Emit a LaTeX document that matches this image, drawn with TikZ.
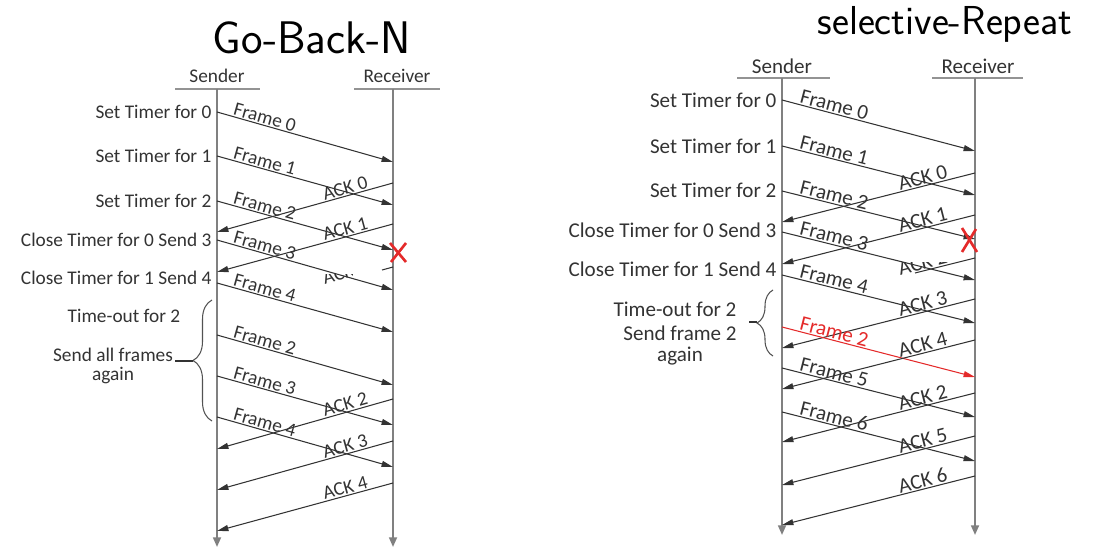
\documentclass[tikz,border=0pt]{standalone}
\usepackage{fontspec}
\setmainfont{Carlito}
\usetikzlibrary{arrows.meta,decorations.pathreplacing}
\definecolor{ink}{HTML}{333333}
\definecolor{lifegray}{HTML}{808080}
\definecolor{lostred}{HTML}{E42A2A}

\begin{document}
\begin{tikzpicture}[
    x=0.02cm, y=-0.02cm,
    font=\fontsize{11}{13}\selectfont,
    hand/.style={font=\sffamily\fontsize{26}{26}\selectfont\addfontfeatures{LetterSpace=4},
        text=black},
    head/.style={text=ink},
    event/.style={text=ink, anchor=east, inner xsep=3pt},
    note/.style={text=ink, align=center, inner sep=0pt},
    bar/.style={draw=lifegray!85, line width=1.1pt},
    life/.style={draw=lifegray, line width=1.1pt, -{Triangle[length=5.5pt,width=4.5pt]}},
    msg/.style={draw=ink, line width=0.6pt, -{Triangle[length=6.5pt,width=3.4pt]}},
    frag/.style={draw=ink, line width=0.6pt},
    lbl/.style={sloped, above, pos=0.26, inner sep=0.6pt, text=ink},
    lost/.style={draw=lostred, line width=1.5pt},
    curly/.style={draw=ink!85, line width=0.6pt, decorate,
        decoration={brace, amplitude=#1}}
]
\useasboundingbox (0,0) rectangle (1114,560);

% Left: Go-Back-N
\node[hand] (gbnTitle) at (312,38) {Go-Back-N};

\node[head] (gbnSender) at (217,76) {Sender};
\node[head] (gbnReceiver) at (397,76) {Receiver};
\draw[bar] (175,89) -- (260,89);
\draw[bar] (354,89) -- (440,89);

\coordinate (gSt) at (217,89);  \coordinate (gSb) at (217,547);
\coordinate (gRt) at (393,89);  \coordinate (gRb) at (393,547);
\draw[life] (gSt) -- (gSb);
\draw[life] (gRt) -- (gRb);

\coordinate (gF0a) at (217,112); \coordinate (gF0b) at (393,162);
\coordinate (gF1a) at (217,156); \coordinate (gF1b) at (393,205);
\coordinate (gF2a) at (217,201); \coordinate (gF2b) at (393,250);
\coordinate (gF3a) at (217,240); \coordinate (gF3b) at (393,290);
\coordinate (gF4a) at (217,283); \coordinate (gF4b) at (393,332);
\coordinate (gA0a) at (393,183); \coordinate (gA0b) at (217,232);
\coordinate (gA1a) at (393,224); \coordinate (gA1b) at (217,272);

\node[event] (gT0) at (gF0a) {Set Timer for 0};
\node[event] (gT1) at (gF1a) {Set Timer for 1};
\node[event] (gT2) at (gF2a) {Set Timer for 2};
\node[event] (gC0) at (gF3a) {Close Timer for 0 Send 3};
\node[event] (gC1) at (217,278) {Close Timer for 1 Send 4};

\draw[msg] (gF0a) -- node[lbl] {Frame 0} (gF0b);
\draw[msg] (gF1a) -- node[lbl] {Frame 1} (gF1b);
\draw[msg] (gF2a) -- node[lbl] {Frame 2} (gF2b);
\draw[msg] (gA0a) -- node[lbl] {ACK 0} (gA0b);
\draw[msg] (gA1a) -- node[lbl] {ACK 1} (gA1b);
\draw[msg] (gF3a) -- node[lbl] {Frame 3} (gF3b);
\draw[msg] (gF4a) -- node[lbl] {Frame 4} (gF4b);

% lost frame 2
\draw[lost] (390,243) -- (406,262);
\draw[lost] (406,243) -- (391,262);

% erased ack
\coordinate (gE0) at (393,267); \coordinate (gE1) at (382,270);
\coordinate (gE2) at (217,317);
\draw[frag] (gE0) -- (gE1);
\begin{scope}
\clip (318,274) rectangle (352,292);
\path (gE0) -- node[lbl] {ACK 2} (gE2);
\end{scope}

% time-out
\draw[curly=0.38cm] (212,421) -- (212,300);
\node[note] (gTimeout) at (124,316) {Time-out for 2};
\node[note, font=\fontsize{11}{10.8}\selectfont] (gResend) at (113,366)
    {Send all frames\\again};
\coordinate (gTip) at (193,361); \coordinate (gTick) at (175,361);
\draw[frag] (gTip) -- (gTick);

\coordinate (gF5a) at (217,335); \coordinate (gF5b) at (393,385);
\coordinate (gF6a) at (217,376); \coordinate (gF6b) at (393,425);
\coordinate (gF7a) at (217,417); \coordinate (gF7b) at (393,467);
\coordinate (gA2a) at (393,399); \coordinate (gA2b) at (217,449);
\coordinate (gA3a) at (393,441); \coordinate (gA3b) at (217,490);
\coordinate (gA4a) at (393,483); \coordinate (gA4b) at (217,531);

\draw[msg] (gF5a) -- node[lbl] {Frame 2} (gF5b);
\draw[msg] (gF6a) -- node[lbl] {Frame 3} (gF6b);
\draw[msg] (gF7a) -- node[lbl] {Frame 4} (gF7b);
\draw[msg] (gA2a) -- node[lbl] {ACK 2} (gA2b);
\draw[msg] (gA3a) -- node[lbl] {ACK 3} (gA3b);
\draw[msg] (gA4a) -- node[lbl] {ACK 4} (gA4b);

% Right: Selective Repeat
\begin{scope}[font=\fontsize{12}{14}\selectfont]
\node[hand, font=\sffamily\fontsize{23}{23}\selectfont\addfontfeatures{LetterSpace=10}]
    (srTitle) at (945,24) {selective-Repeat};

\node[head] (srSender) at (782,66) {Sender};
\node[head] (srReceiver) at (978,66) {Receiver};
\draw[bar] (737,78) -- (830,78);
\draw[bar] (932,78) -- (1023,78);

\coordinate (sSt) at (782,78);  \coordinate (sSb) at (782,535);
\coordinate (sRt) at (975,78);  \coordinate (sRb) at (975,535);
\draw[life] (sSt) -- (sSb);
\draw[life] (sRt) -- (sRb);

\coordinate (sF0a) at (782,100); \coordinate (sF0b) at (975,151);
\coordinate (sF1a) at (782,146); \coordinate (sF1b) at (975,195);
\coordinate (sF2a) at (782,191); \coordinate (sF2b) at (975,239);
\coordinate (sF3a) at (782,232); \coordinate (sF3b) at (975,280);
\coordinate (sF4a) at (782,275); \coordinate (sF4b) at (975,323);
\coordinate (sA0a) at (975,173); \coordinate (sA0b) at (782,222);
\coordinate (sA1a) at (975,215); \coordinate (sA1b) at (782,264);

\node[event] (sT0) at (sF0a) {Set Timer for 0};
\node[event] (sT1) at (sF1a) {Set Timer for 1};
\node[event] (sT2) at (782,190) {Set Timer for 2};
\node[event] (sC0) at (782,230) {Close Timer for 0 Send 3};
\node[event] (sC1) at (782,269) {Close Timer for 1 Send 4};

\draw[msg] (sF0a) -- node[lbl] {Frame 0} (sF0b);
\draw[msg] (sF1a) -- node[lbl] {Frame 1} (sF1b);
\draw[msg] (sF2a) -- node[lbl] {Frame 2} (sF2b);
\draw[msg] (sA0a) -- node[lbl] {ACK 0} (sA0b);
\draw[msg] (sA1a) -- node[lbl] {ACK 1} (sA1b);
\draw[msg] (sF3a) -- node[lbl] {Frame 3} (sF3b);
\draw[msg] (sF4a) -- node[lbl] {Frame 4} (sF4b);

% lost frame 2
\draw[lost] (962,228) -- (977,252);
\draw[lost] (976,229) -- (962,252);

% erased ack
\coordinate (sE0) at (975,258); \coordinate (sE1) at (915,273);
\coordinate (sE2) at (782,308);
\draw[frag] (sE0) -- (sE1);
\begin{scope}
\clip (890,263) rectangle (950,285);
\path (sE0) -- node[lbl] {ACK 2} (sE2);
\end{scope}

% time-out
\draw[curly=0.32cm] (773,356) -- (773,290);
\node[note] (sTimeout) at (675,309) {Time-out for 2};
\node[note, font=\fontsize{12}{11.9}\selectfont] (sResend) at (680,345.5)
    {Send frame 2\\again};
\coordinate (sTip) at (757,322); \coordinate (sTick) at (749,322);
\draw[frag] (sTip) -- (sTick);

\coordinate (sA3a) at (975,299); \coordinate (sA3b) at (782,348);
\coordinate (sF5a) at (782,327); \coordinate (sF5b) at (975,377);
\coordinate (sA4a) at (975,340); \coordinate (sA4b) at (782,389);
\coordinate (sF6a) at (782,368); \coordinate (sF6b) at (975,417);
\coordinate (sA5a) at (975,393); \coordinate (sA5b) at (782,442);
\coordinate (sF7a) at (782,412); \coordinate (sF7b) at (975,461);
\coordinate (sA6a) at (975,436); \coordinate (sA6b) at (782,485);
\coordinate (sA7a) at (975,476); \coordinate (sA7b) at (782,525);

\draw[msg] (sA3a) -- node[lbl] {ACK 3} (sA3b);
\draw[msg, draw=lostred] (sF5a) -- node[lbl, text=lostred] {Frame 2} (sF5b);
\draw[msg] (sA4a) -- node[lbl] {ACK 4} (sA4b);
\draw[msg] (sF6a) -- node[lbl] {Frame 5} (sF6b);
\draw[msg] (sA5a) -- node[lbl] {ACK 2} (sA5b);
\draw[msg] (sF7a) -- node[lbl] {Frame 6} (sF7b);
\draw[msg] (sA6a) -- node[lbl] {ACK 5} (sA6b);
\draw[msg] (sA7a) -- node[lbl] {ACK 6} (sA7b);
\end{scope}

\end{tikzpicture}
\end{document}
